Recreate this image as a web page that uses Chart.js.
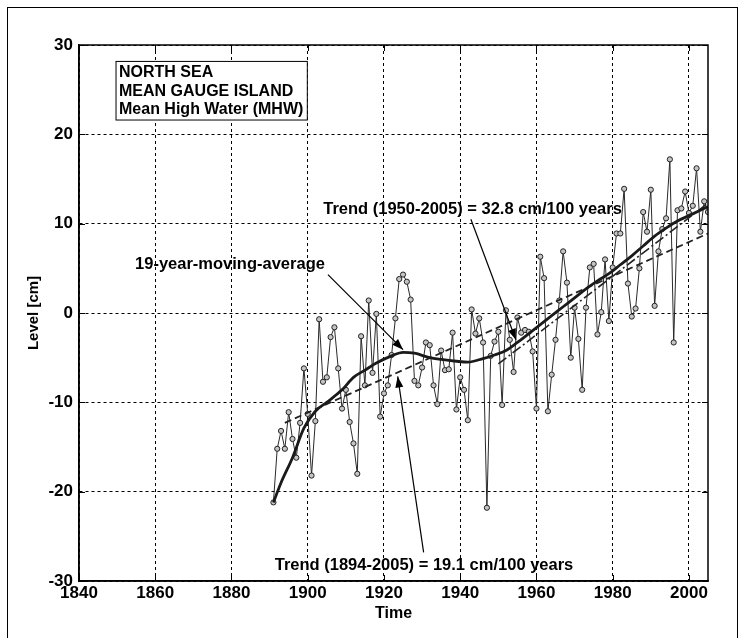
<!DOCTYPE html>
<html>
<head>
<meta charset="utf-8">
<script src="https://cdn.jsdelivr.net/npm/chart.js@4.4.1/dist/chart.umd.min.js"></script>
<style>
  html, body { margin: 0; padding: 0; background: #fff; }
  #wrap { position: relative; width: 744px; height: 638px; overflow: hidden; background: #fff; }
  #frame { position: absolute; left: 7px; top: 7px; width: 729px; height: 700px; border: 1px solid #000; pointer-events: none; }
</style>
</head>
<body>
<div id="wrap">
  <canvas id="chart" width="744" height="638"></canvas>
  <div id="frame"></div>
</div>
<script>
// yearly mean high water, cm
const years = [
  1891, 1892, 1893, 1894, 1895, 1896, 1897, 1898, 1899, 1900,
  1901, 1902, 1903, 1904, 1905, 1906, 1907, 1908, 1909, 1910,
  1911, 1912, 1913, 1914, 1915, 1916, 1917, 1918, 1919, 1920,
  1921, 1922, 1923, 1924, 1925, 1926, 1927, 1928, 1929, 1930,
  1931, 1932, 1933, 1934, 1935, 1936, 1937, 1938, 1939, 1940,
  1941, 1942, 1943, 1944, 1945, 1946, 1947, 1948, 1949, 1950,
  1951, 1952, 1953, 1954, 1955, 1956, 1957, 1958, 1959, 1960,
  1961, 1962, 1963, 1964, 1965, 1966, 1967, 1968, 1969, 1970,
  1971, 1972, 1973, 1974, 1975, 1976, 1977, 1978, 1979, 1980,
  1981, 1982, 1983, 1984, 1985, 1986, 1987, 1988, 1989, 1990,
  1991, 1992, 1993, 1994, 1995, 1996, 1997, 1998, 1999, 2000,
  2001, 2002, 2003, 2004, 2005
];
const levels = [
  -21.2, -15.2, -13.2, -15.2, -11.1, -14.1, -16.2, -12.3, -6.2, -11.3,
  -18.2, -12.1, -0.7, -7.7, -7.2, -2.7, -1.6, -6.2, -10.7, -8.6,
  -12.2, -14.6, -18.0, -2.6, -8.1, 1.4, -6.7, -0.1, -11.6, -9.0,
  -8.1, -4.7, -0.6, 3.8, 4.3, 3.5, 1.5, -7.6, -8.1, -6.1,
  -3.3, -3.6, -8.1, -10.2, -4.2, -6.4, -6.3, -2.2, -10.8, -7.2,
  -8.6, -12.0, 0.4, -2.3, -0.6, -3.3, -21.8, -4.8, -3.2, -2.1,
  -10.3, 0.3, -3.0, -6.6, -0.5, -2.2, -1.9, -2.1, -4.3, -10.7,
  6.3, 3.9, -11.0, -6.9, -3.0, 1.4, 6.9, 3.4, -5.0, 0.6,
  -2.9, -8.6, 0.6, 5.1, 5.5, -2.4, 0.1, 6.0, -0.9, 5.1,
  8.9, 8.9, 13.9, 3.3, -0.4, 0.5, 5.0, 11.3, 9.1, 13.8,
  0.8, 6.9, 9.4, 10.6, 17.2, -3.3, 11.5, 11.7, 13.6, 11.2,
  12.0, 16.2, 9.1, 12.5, 11.3
];

// 19-year moving average
const avgYears = [1891, 1893, 1896, 1899, 1902, 1905, 1909, 1912, 1915, 1918, 1922, 1925, 1928, 1932, 1935, 1939, 1942, 1946, 1949, 1952, 1955, 1958, 1961, 1964, 1967, 1970, 1973, 1976, 1979, 1982, 1985, 1988, 1991, 1994, 1997, 2000, 2003, 2005];
const avgLevels = [-21.2, -19.0, -16.2, -12.9, -11.0, -10.0, -8.6, -7.2, -6.4, -5.6, -4.8, -4.4, -4.5, -5.0, -5.2, -5.4, -5.5, -5.1, -4.7, -4.2, -3.3, -2.3, -1.3, -0.3, 0.7, 1.7, 2.7, 3.6, 4.4, 5.4, 6.4, 7.5, 8.6, 9.5, 10.3, 10.9, 11.5, 11.9];

// linear trends (end points)
const trendLongYears = [1894, 2005];
const trendLongLevels = [-12.3, 8.9];
const trendShortYears = [1950, 2005];
const trendShortLevels = [-5.7, 12.3];

const xTicks = [1840, 1860, 1880, 1900, 1920, 1940, 1960, 1980, 2000];
const yTicks = [-30, -20, -10, 0, 10, 20, 30];

const boxLines = ['NORTH SEA', 'MEAN GAUGE ISLAND', 'Mean High Water (MHW)'];

const FONT = '"Liberation Sans", Arial, Helvetica, sans-serif';

const pairs = (xs, ys) => xs.map((v, i) => ({ x: v, y: ys[i] }));

// text labels and arrows, placed in data units
const notes = [
  { text: '19-year-moving-average', x: 1904.5, y: 5.4, align: 'right' },
  { text: 'Trend (1950-2005) = 32.8 cm/100 years', x: 1982.4, y: 11.6, align: 'right' },
  { text: 'Trend (1894-2005) = 19.1 cm/100 years', x: 1930.5, y: -28.3, align: 'center' }
];
const arrows = [
  { from: [1905.3, 4.3], to: [1925, -4.1] },
  { from: [1942.8, 10.5], to: [1954.6, -3.0] },
  { from: [1930.4, -26.8], to: [1923.6, -7.1] }
];

const extras = {
  id: 'extras',
  afterDatasetsDraw(chart) {
    const { ctx, chartArea: a, scales: { x, y } } = chart;
    ctx.save();

    // MATLAB style inner ticks
    ctx.strokeStyle = '#000';
    ctx.lineWidth = 1;
    ctx.setLineDash([]);
    ctx.beginPath();
    xTicks.forEach(v => {
      const px = Math.round(x.getPixelForValue(v)) + 0.5;
      ctx.moveTo(px, a.bottom); ctx.lineTo(px, a.bottom - 6);
      ctx.moveTo(px, a.top); ctx.lineTo(px, a.top + 6);
    });
    yTicks.forEach(v => {
      const py = Math.round(y.getPixelForValue(v)) + 0.5;
      ctx.moveTo(a.left, py); ctx.lineTo(a.left + 6, py);
      ctx.moveTo(a.right, py); ctx.lineTo(a.right - 6, py);
    });
    ctx.stroke();

    // box around the axes
    ctx.lineWidth = 1.5;
    ctx.strokeRect(a.left, a.top, a.right - a.left, a.bottom - a.top);

    // legend-like text box
    ctx.font = 'bold 16px ' + FONT;
    ctx.textBaseline = 'middle';
    ctx.textAlign = 'left';
    const bx = x.getPixelForValue(1850.5);
    const firstY = y.getPixelForValue(26.93);
    const lineH = 18.8;
    const w = Math.max(...boxLines.map(t => ctx.measureText(t).width));
    const top = firstY - 11, bottom = firstY + lineH * (boxLines.length - 1) + 10;
    ctx.fillStyle = '#fff';
    ctx.fillRect(bx - 3, top, w + 7, bottom - top);
    ctx.lineWidth = 1;
    ctx.strokeRect(bx - 3, top, w + 7, bottom - top);
    ctx.fillStyle = '#000';
    boxLines.forEach((t, i) => ctx.fillText(t, bx, firstY + i * lineH));

    // annotations
    ctx.font = 'bold 16.5px ' + FONT;
    notes.forEach(n => {
      ctx.textAlign = n.align;
      ctx.fillText(n.text, x.getPixelForValue(n.x), y.getPixelForValue(n.y));
    });
    ctx.lineWidth = 1.2;
    arrows.forEach(ar => {
      const x1 = x.getPixelForValue(ar.from[0]), y1 = y.getPixelForValue(ar.from[1]);
      const x2 = x.getPixelForValue(ar.to[0]), y2 = y.getPixelForValue(ar.to[1]);
      ctx.beginPath();
      ctx.moveTo(x1, y1); ctx.lineTo(x2, y2);
      ctx.stroke();
      const ang = Math.atan2(y2 - y1, x2 - x1);
      const len = 11, hw = 4;
      ctx.beginPath();
      ctx.moveTo(x2, y2);
      ctx.lineTo(x2 - len * Math.cos(ang) + hw * Math.sin(ang), y2 - len * Math.sin(ang) - hw * Math.cos(ang));
      ctx.lineTo(x2 - len * Math.cos(ang) - hw * Math.sin(ang), y2 - len * Math.sin(ang) + hw * Math.cos(ang));
      ctx.closePath();
      ctx.fill();
    });
    ctx.restore();
  }
};

const whiteBg = {
  id: 'whiteBg',
  beforeDraw(chart) {
    const { ctx, width, height } = chart;
    ctx.save();
    ctx.fillStyle = '#fff';
    ctx.fillRect(0, 0, width, height);
    ctx.restore();
  }
};

new Chart(document.getElementById('chart'), {
  type: 'line',
  data: {
    datasets: [
      {
        label: '19-year moving average',
        data: pairs(avgYears, avgLevels),
        borderColor: '#1a1a1a',
        borderWidth: 2.8,
        pointRadius: 0,
        cubicInterpolationMode: 'monotone',
        order: 0
      },
      {
        label: 'Trend 1950-2005',
        data: pairs(trendShortYears, trendShortLevels),
        borderColor: '#222',
        borderWidth: 1.6,
        borderDash: [10, 3, 2, 3],
        pointRadius: 0,
        order: 1
      },
      {
        label: 'Trend 1894-2005',
        data: pairs(trendLongYears, trendLongLevels),
        borderColor: '#222',
        borderWidth: 1.8,
        borderDash: [7, 4],
        pointRadius: 0,
        order: 1
      },
      {
        label: 'MHW',
        data: pairs(years, levels),
        borderColor: '#2a2a2a',
        borderWidth: 1,
        tension: 0,
        pointRadius: 2.6,
        pointBorderWidth: 1,
        pointBackgroundColor: '#c4c4c4',
        pointBorderColor: '#222',
        order: 2
      }
    ]
  },
  options: {
    responsive: false,
    animation: false,
    events: [],
    layout: { padding: { top: 45, right: 36, left: 0, bottom: 0 } },
    plugins: { legend: { display: false }, tooltip: { enabled: false } },
    scales: {
      x: {
        type: 'linear',
        min: 1840,
        max: 2005,
        afterBuildTicks: s => { s.ticks = xTicks.map(v => ({ value: v })); },
        afterFit: s => { s.height = 57; },
        ticks: { color: '#000', padding: 2, maxRotation: 0, callback: v => String(v), font: { family: FONT, size: 17, weight: 'bold' } },
        grid: { color: '#000', lineWidth: 1, drawTicks: false },
        border: { color: '#000', width: 1.5, dash: [3, 3] },
        title: { display: true, text: 'Time', color: '#000', padding: { top: 0, bottom: 15 }, font: { family: FONT, size: 16, weight: 'bold' } }
      },
      y: {
        min: -30,
        max: 30,
        afterBuildTicks: s => { s.ticks = yTicks.map(v => ({ value: v })); },
        afterFit: s => { s.width = 79; },
        ticks: { color: '#000', padding: 6, callback: v => String(v), font: { family: FONT, size: 17, weight: 'bold' } },
        grid: { color: '#000', lineWidth: 1, drawTicks: false },
        border: { color: '#000', width: 1.5, dash: [3, 3] },
        title: { display: true, text: 'Level [cm]', color: '#000', padding: { top: 25, bottom: 0 }, font: { family: FONT, size: 15, weight: 'bold' } }
      }
    }
  },
  plugins: [whiteBg, extras]
});
</script>
</body>
</html>
